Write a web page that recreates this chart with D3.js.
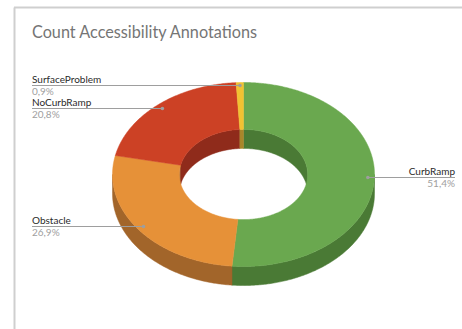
<!DOCTYPE html>
<html><head><meta charset="utf-8">
<script src="https://cdn.jsdelivr.net/npm/d3@7"></script>
<style>html,body{margin:0;padding:0;background:#fff;overflow:hidden}</style>
</head><body>
<svg id="chart" width="462" height="329"></svg>
<script>
const title = "Count Accessibility Annotations";
const categories = ["CurbRamp", "Obstacle", "NoCurbRamp", "SurfaceProblem"];
const values = [51.4, 26.9, 20.8, 0.9];
const valueLabels = ["51,4%", "26,9%", "20,8%", "0,9%"];
const topColors = ["#6aa84f", "#e69138", "#cc4125", "#f1c232"];
const sideColors = ["#4a7a35", "#a2652a", "#8f2b1b", "#a9862a"];

const svg = d3.select("#chart");
// frame
svg.append("line").attr("x1",14.5).attr("x2",14.5).attr("y1",7.5).attr("y2",329).attr("stroke","#cfcfcf").attr("stroke-width",2);
svg.append("line").attr("x1",14).attr("x2",462).attr("y1",7.5).attr("y2",7.5).attr("stroke","#cfcfcf").attr("stroke-width",2);

const t = svg.append("text").attr("x",32).attr("y",37.5).text(title)
  .attr("font-family","Lato, 'Open Sans', sans-serif").attr("font-size",17).attr("fill","#757575");
t.attr("textLength",225).attr("lengthAdjust","spacingAndGlyphs");

const cx = 243.5, cy = 174.5, rx = 131, ry = 92, depth = 19, innerFrac = 0.49, dotFrac = 0.95;
const rScale = d3.scaleLinear().domain([0,1]).range([0,1]);
const pie = d3.pie().sort(null).value(d => d)(values);

function pt(a, r, d) {
  return [cx + rScale(r) * rx * Math.sin(a), cy - rScale(r) * ry * Math.cos(a) + d];
}
function arcPts(a0, a1, r, d) {
  const n = Math.max(2, Math.ceil(Math.abs(a1 - a0) / 0.01));
  return d3.range(n + 1).map(i => pt(a0 + (a1 - a0) * i / n, r, d));
}
const line = d3.line();
function band(a0, a1, r) {
  return line(arcPts(a0, a1, r, 0).concat(arcPts(a1, a0, r, depth))) + "Z";
}
function ring(a0, a1) {
  return line(arcPts(a0, a1, 1, 0).concat(arcPts(a1, a0, innerFrac, 0))) + "Z";
}
function clipRange(a0, a1, lo, hi) {
  const s = Math.max(a0, lo), e = Math.min(a1, hi);
  return s < e ? [s, e] : null;
}
const g = svg.append("g");
pie.forEach((p, i) => {
  [[0, Math.PI/2], [1.5*Math.PI, 2*Math.PI]].forEach(([lo, hi]) => {
    const r = clipRange(p.startAngle, p.endAngle, lo, hi);
    if (r) g.append("path").attr("d", band(r[0], r[1], innerFrac)).attr("fill", sideColors[i]).attr("stroke", sideColors[i]).attr("stroke-width",0.5);
  });
});
pie.forEach((p, i) => {
  const r = clipRange(p.startAngle, p.endAngle, Math.PI/2, 1.5*Math.PI);
  if (r) g.append("path").attr("d", band(r[0], r[1], 1)).attr("fill", sideColors[i]).attr("stroke", sideColors[i]).attr("stroke-width",0.5);
});
pie.forEach((p, i) => {
  g.append("path").attr("d", ring(p.startAngle, p.endAngle)).attr("fill", topColors[i]).attr("stroke", topColors[i]).attr("stroke-width",0.5);
});

// label layout with minimum spacing per side
const labelFont = "Lato, 'Open Sans', sans-serif";
const items = pie.map((p, i) => {
  const mid = (p.startAngle + p.endAngle) / 2;
  const [dx, dy] = pt(mid, dotFrac, 0);
  return {i, dx, dy, right: dx > cx, ly: dy};
});
["left", "right"].forEach(side => {
  const s = items.filter(d => (side === "right") === d.right).sort((a, b) => a.dy - b.dy);
  for (let k = 1; k < s.length; k++) {
    const gap = s[k].ly - s[k-1].ly;
    if (gap < 23) { const sh = (23 - gap) / 2; s[k-1].ly -= sh; s[k].ly += sh; }
  }
});
items.forEach(d => {
  const lx = d.right ? 455 : 32;
  const ly = Math.round(d.ly) - 0.5;
  svg.append("line").attr("x1", d.dx).attr("y1", ly).attr("x2", lx).attr("y2", ly)
    .attr("stroke", "#9e9e9e").attr("stroke-width", 1);
  svg.append("circle").attr("cx", d.dx).attr("cy", ly).attr("r", 1.8).attr("fill", "#9e9e9e");
  svg.append("text").attr("x", lx).attr("y", ly - 3).text(categories[d.i])
    .attr("text-anchor", d.right ? "end" : "start")
    .attr("font-family", labelFont).attr("font-size", 10).attr("fill", "#2a2a2a");
  svg.append("text").attr("x", lx).attr("y", ly + 9).text(valueLabels[d.i])
    .attr("text-anchor", d.right ? "end" : "start")
    .attr("font-family", labelFont).attr("font-size", 10).attr("fill", "#a0a0a0");
});
</script>
</body></html>
